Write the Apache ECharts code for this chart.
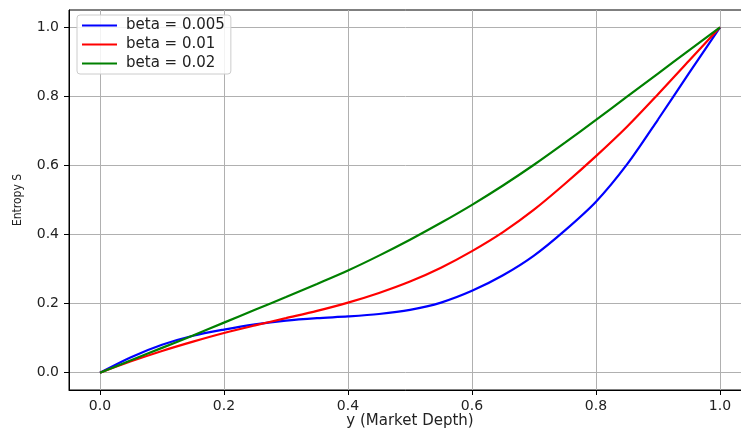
<!DOCTYPE html>
<html>
<head>
<meta charset="utf-8">
<script src="https://cdn.jsdelivr.net/npm/echarts@6/dist/echarts.min.js"></script>
<style>
  html, body { margin: 0; padding: 0; background: #fff; }
  #chart { width: 741px; height: 428px; }
</style>
</head>
<body>
<div id="chart"></div>
<script>
// market depth samples
const xs = [0, 0.05, 0.1, 0.15, 0.2, 0.25, 0.3, 0.35, 0.4, 0.45, 0.5,
  0.55, 0.6, 0.65, 0.7, 0.75, 0.8, 0.85, 0.9, 0.95, 1.0];

// entropy curves
const beta005 = [0, 0.045, 0.081, 0.107, 0.125, 0.140, 0.151, 0.158, 0.163, 0.170, 0.182,
  0.203, 0.237, 0.282, 0.339, 0.412, 0.495, 0.603, 0.733, 0.867, 1.0];
const beta01 = [0, 0.033, 0.063, 0.090, 0.115, 0.137, 0.158, 0.179, 0.203, 0.231, 0.264,
  0.304, 0.352, 0.407, 0.472, 0.547, 0.627, 0.712, 0.806, 0.903, 1.0];
const beta02 = [0, 0.036, 0.072, 0.108, 0.145, 0.182, 0.219, 0.257, 0.296, 0.339, 0.385,
  0.434, 0.486, 0.542, 0.602, 0.666, 0.732, 0.799, 0.866, 0.933, 1.0];

const seriesNames = ['beta = 0.005', 'beta = 0.01', 'beta = 0.02'];
const tickValues = [0, 0.2, 0.4, 0.6, 0.8, 1.0];

const FONT = 'DejaVu Sans';

function pairs(values) {
  return xs.map((x, i) => [x, values[i]]);
}

function axisCommon(name) {
  return {
    type: 'value',
    min: -0.05,
    max: 1.05,
    name: name,
    nameLocation: 'middle',
    nameMoveOverlap: false,
    axisLine: { show: true, onZero: false, lineStyle: { color: '#000', width: 1 } },
    axisTick: {
      show: true,
      length: 5,
      customValues: tickValues,
      lineStyle: { color: '#000', width: 1 }
    },
    axisLabel: {
      customValues: tickValues,
      formatter: v => v.toFixed(1),
      color: '#222',
      fontFamily: FONT,
      fontSize: 14
    },
    splitLine: { show: true, lineStyle: { color: '#b0b0b0', width: 1 } }
  };
}

const xAxis = axisCommon('y (Market Depth)');
xAxis.nameGap = 24;
xAxis.nameTextStyle = { color: '#222', fontFamily: FONT, fontSize: 15 };
xAxis.axisLabel.margin = 9;

const yAxis = axisCommon('Entropy S');
yAxis.nameGap = 45;
yAxis.nameTextStyle = { color: '#222', fontFamily: 'DejaVu Sans Condensed', fontSize: 12 };
yAxis.axisLabel.margin = 10;

const colors = ['#0000ff', '#ff0000', '#008000'];
const allValues = [beta005, beta01, beta02];

const option = {
  animation: false,
  backgroundColor: '#fff',
  grid: {
    left: 69,
    top: 10,
    width: 682,
    height: 380,
    outerBoundsMode: 'none',
    containLabel: false,
    show: true,
    borderColor: '#000',
    borderWidth: 1,
    backgroundColor: 'transparent'
  },
  legend: {
    orient: 'vertical',
    left: 77,
    top: 15,
    icon: 'rect',
    itemWidth: 35,
    itemHeight: 2,
    itemGap: 4,
    padding: [3, 6, 3, 5],
    backgroundColor: 'rgba(255,255,255,0.85)',
    borderColor: '#cccccc',
    borderWidth: 1,
    borderRadius: 3,
    textStyle: {
      color: '#222',
      fontFamily: FONT,
      fontSize: 15,
      lineHeight: 14,
      padding: [0, 0, 0, 4]
    },
    data: seriesNames
  },
  xAxis: xAxis,
  yAxis: yAxis,
  series: allValues.map((vals, i) => ({
    name: seriesNames[i],
    type: 'line',
    data: pairs(vals),
    smooth: 0.3,
    symbol: 'none',
    color: colors[i],
    lineStyle: { color: colors[i], width: 2.2 }
  }))
};

const chart = echarts.init(document.getElementById('chart'));
chart.setOption(option);
</script>
</body>
</html>
